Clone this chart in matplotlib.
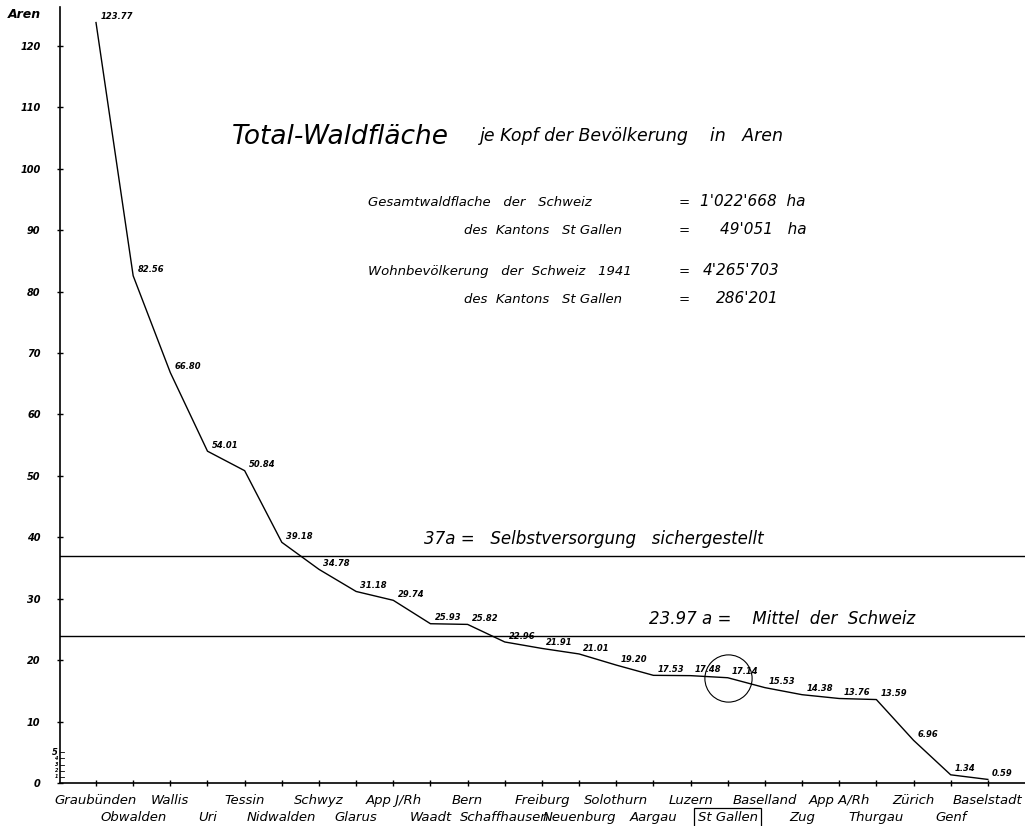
import matplotlib
matplotlib.use("Agg")
import matplotlib.pyplot as plt
from matplotlib.transforms import blended_transform_factory

# ---- data ----
cantons = ["Graubünden", "Obwalden", "Wallis", "Uri", "Tessin", "Nidwalden",
           "Schwyz", "Glarus", "App J/Rh", "Waadt", "Bern", "Schaffhausen",
           "Freiburg", "Neuenburg", "Solothurn", "Aargau", "Luzern", "St Gallen",
           "Baselland", "Zug", "App A/Rh", "Thurgau", "Zürich", "Genf", "Baselstadt"]
values = [123.77, 82.56, 66.80, 54.01, 50.84, 39.18, 34.78, 31.18, 29.74, 25.93,
          25.82, 22.96, 21.91, 21.01, 19.20, 17.53, 17.48, 17.14, 15.53, 14.38,
          13.76, 13.59, 6.96, 1.34, 0.59]
y_ticks = list(range(0, 130, 10))
small_ticks = [1, 2, 3, 4, 5]
self_supply = 37
swiss_mean = 23.97
highlight = "St Gallen"

FONT = dict(family="DejaVu Sans", style="italic")

fig = plt.figure(figsize=(10.25, 8.26), dpi=100)
ax = fig.add_axes([0.0585, 0.052, 0.9415, 0.9395])
x = list(range(len(values)))
ax.set_xlim(-0.97, 25.0)
ax.set_ylim(0, 126.3)

ax.plot(x, values, color="black", lw=1.0)
ax.axhline(self_supply, color="black", lw=1.0)
ax.axhline(swiss_mean, color="black", lw=1.0)

for s in ["top", "right"]:
    ax.spines[s].set_visible(False)
ax.spines["left"].set_linewidth(1.2)
ax.spines["bottom"].set_linewidth(1.2)

# y ticks
ax.set_yticks(y_ticks)
ax.set_yticklabels([str(t) for t in y_ticks], fontsize=7, fontweight="bold", **FONT)
ax.tick_params(axis="y", direction="inout", length=4, width=1, pad=12)
for t in small_ticks:
    ax.plot([-0.97, -0.85], [t, t], color="black", lw=0.6, clip_on=False)
    ax.text(-1.02, t, str(t), fontsize=3.5 if t < 5 else 6, ha="right", va="center",
            fontweight="bold", **FONT)

# x ticks
ax.set_xticks(x)
ax.set_xticklabels([])
ax.tick_params(axis="x", direction="inout", length=4, width=1)

trans = blended_transform_factory(ax.transData, ax.transAxes)
for i, name in enumerate(cantons):
    yy = -0.022 if i % 2 == 0 else -0.045
    kw = {}
    if name == highlight:
        kw["bbox"] = dict(boxstyle="square,pad=0.25", fc="white", ec="black", lw=0.9)
    ax.text(i, yy, name, transform=trans, ha="center", va="center", fontsize=9.5,
            **FONT, **kw)

# value labels
for i, v in enumerate(values):
    ax.annotate(f"{v:.2f}", (i, v), xytext=(3, 1), textcoords="offset points",
                fontsize=6, fontweight="bold", ha="left", va="bottom", **FONT)

# highlight circle
hi = cantons.index(highlight)
ax.plot(hi, values[hi], marker="o", ms=34, mfc="none", mec="black", mew=0.8)

# reference line labels
ax.text(8.84, self_supply + 1.3, "37a =   Selbstversorgung   sichergestellt",
        fontsize=12, ha="left", va="bottom", **FONT)
ax.text(14.88, swiss_mean + 1.3, "23.97 a =    Mittel  der  Schweiz",
        fontsize=12, ha="left", va="bottom", **FONT)

# titles and info block
fig.text(0.008, 0.978, "Aren", fontsize=9, fontweight="bold", **FONT)
fig.text(0.226, 0.826, "Total-Waldfläche", fontsize=19, **FONT)
fig.text(0.468, 0.829, "je Kopf der Bevölkerung    in   Aren", fontsize=12.5, **FONT)

info = [
    (0.359, 0.751, "Gesamtwaldflache   der   Schweiz", "=", 0.683, "1'022'668  ha"),
    (0.453, 0.717, "des  Kantons   St Gallen", "=", 0.702, "49'051   ha"),
    (0.359, 0.667, "Wohnbevölkerung   der  Schweiz   1941", "=", 0.686, "4'265'703"),
    (0.453, 0.633, "des  Kantons   St Gallen", "=", 0.698, "286'201"),
]
for xt, yt, lbl, eq, xv, val in info:
    fig.text(xt, yt, lbl, fontsize=9.5, **FONT)
    fig.text(0.662, yt, eq, fontsize=9.5, **FONT)
    fig.text(xv, yt, val, fontsize=11, ha="left", **FONT)

fig.savefig("out.png", dpi=100, facecolor="white")
